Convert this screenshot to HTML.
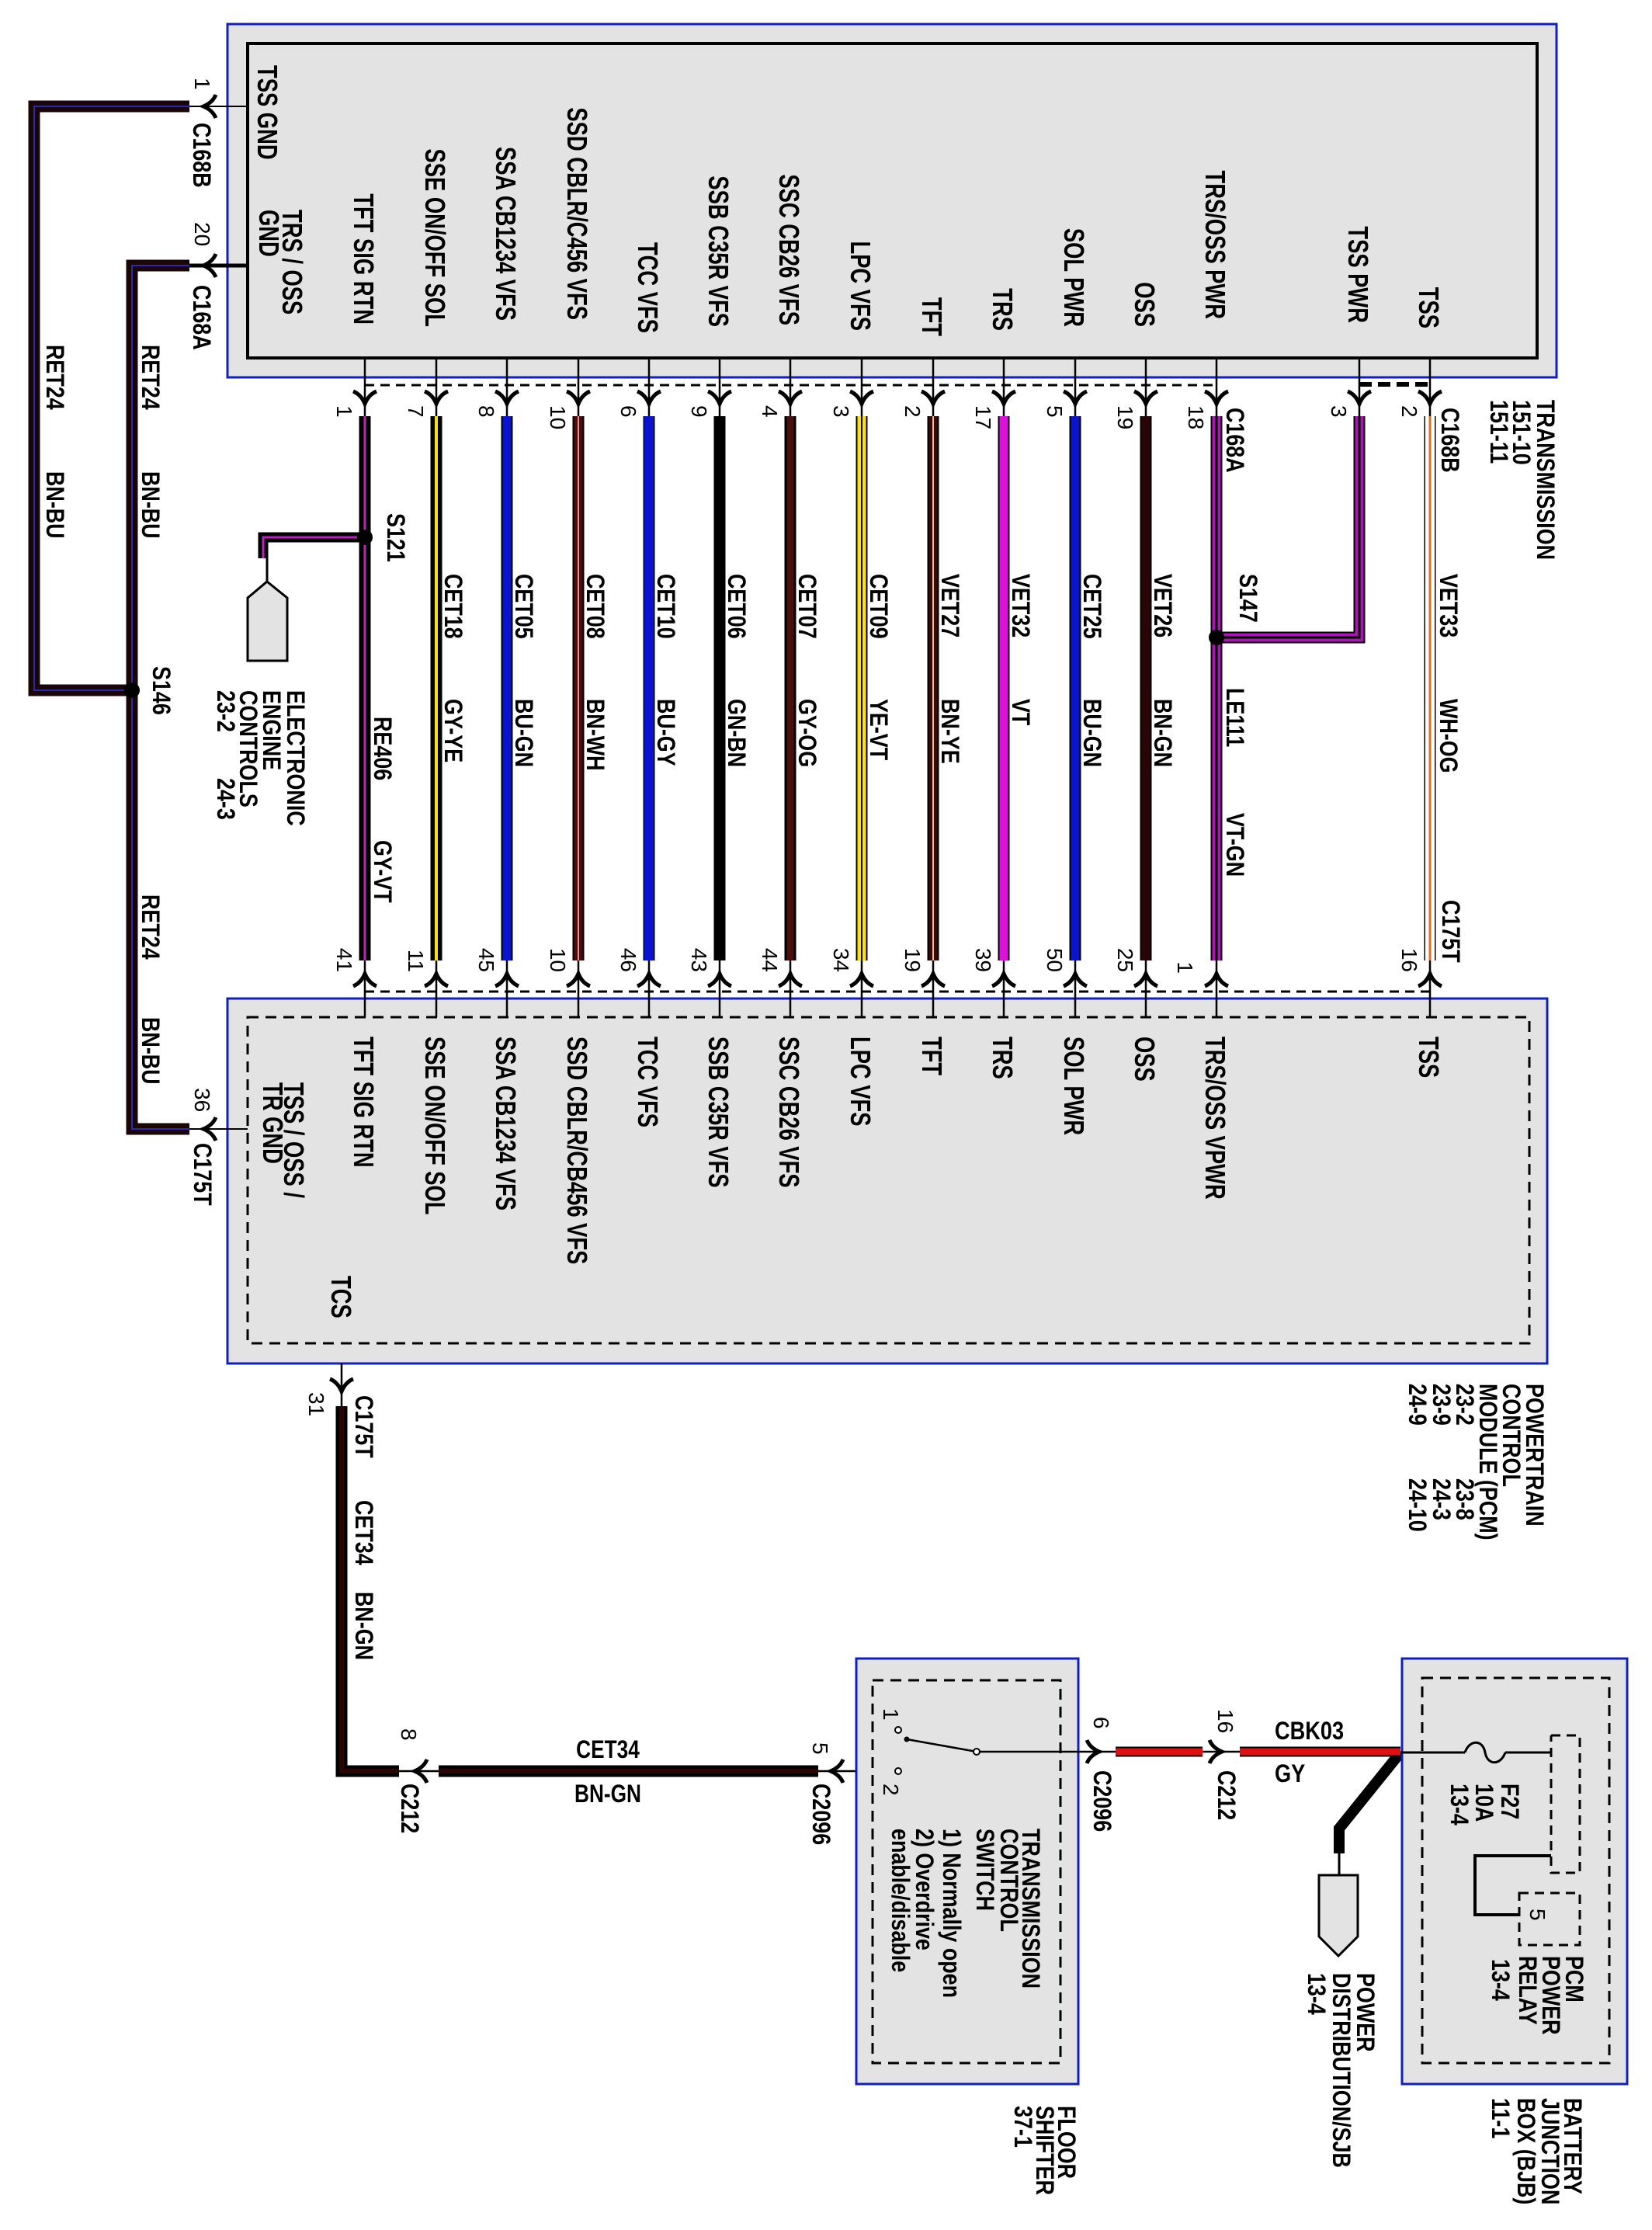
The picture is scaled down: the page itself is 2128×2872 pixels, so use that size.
<!DOCTYPE html>
<html><head><meta charset="utf-8"><style>
html,body{margin:0;padding:0;background:#fff}
svg{display:block}
text{font-family:"Liberation Sans",Arial,sans-serif;fill:#000}
.m{font-size:36px;font-weight:bold}
.w{font-size:32px;font-weight:bold}
.p{font-size:28px}
.s{font-size:32px;font-weight:bold}
.h{font-size:32px;font-weight:bold}
</style></head><body>
<svg width="2128" height="2872" viewBox="0 0 2128 2872" xmlns="http://www.w3.org/2000/svg">
<defs>
<path id="ad" d="M-15,-14 Q-5,-10 0,2 Q5,-10 15,-14" fill="none" stroke="#000" stroke-width="5"/>
<path id="au" d="M-15,14 Q-5,10 0,-2 Q5,10 15,14" fill="none" stroke="#000" stroke-width="5"/>
<path id="al" d="M14,-15 Q10,-5 -2,0 Q10,5 14,15" fill="none" stroke="#000" stroke-width="5"/>
<path id="ar" d="M-14,-15 Q-10,-5 2,0 Q-10,5 -14,15" fill="none" stroke="#000" stroke-width="5"/>
</defs>

<rect x="293" y="31" width="1712" height="455" fill="#e3e3e3" stroke="#1020c0" stroke-width="3"/>
<rect x="319" y="56" width="1661" height="405" fill="#e3e3e3" stroke="#000" stroke-width="4"/>

<rect x="293" y="1286" width="1700" height="470" fill="#e3e3e3" stroke="#1020c0" stroke-width="3"/>
<rect x="319" y="1310" width="1651" height="420" fill="none" stroke="#000" stroke-width="3" stroke-dasharray="14,9"/>

<line x1="470" y1="496" x2="1567" y2="496" stroke="#000" stroke-width="3" stroke-dasharray="12,8"/>
<line x1="1751" y1="495" x2="1842" y2="495" stroke="#000" stroke-width="6" stroke-dasharray="16,8"/>
<line x1="470" y1="1277" x2="1842" y2="1277" stroke="#000" stroke-width="3" stroke-dasharray="12,8"/>

<polyline points="244,137 44,137 44,889 170,889" fill="none" stroke="#1a0606" stroke-width="15"/>
<polyline points="244,137 44,137 44,889 170,889" fill="none" stroke="#2a2ab0" stroke-width="2"/>
<polyline points="244,342 170,342 170,1454 244,1454" fill="none" stroke="#1a0606" stroke-width="15"/>
<polyline points="244,342 170,342 170,1454 244,1454" fill="none" stroke="#2a2ab0" stroke-width="2"/>
<circle cx="170" cy="889" r="10" fill="#000"/>
<line x1="244" y1="137" x2="319" y2="137" stroke="#000" stroke-width="2"/>
<line x1="244" y1="342" x2="319" y2="342" stroke="#000" stroke-width="5"/>
<line x1="244" y1="1454" x2="319" y2="1454" stroke="#000" stroke-width="2"/>
<use href="#al" x="264" y="137"/><use href="#al" x="264" y="342"/><use href="#al" x="264" y="1454"/>

<g stroke="#000" stroke-width="2.5">
<line x1="470" y1="461" x2="470" y2="536"/><line x1="562" y1="461" x2="562" y2="536"/><line x1="653" y1="461" x2="653" y2="536"/><line x1="745" y1="461" x2="745" y2="536"/><line x1="836" y1="461" x2="836" y2="536"/><line x1="927" y1="461" x2="927" y2="536"/><line x1="1018" y1="461" x2="1018" y2="536"/><line x1="1110" y1="461" x2="1110" y2="536"/><line x1="1202" y1="461" x2="1202" y2="536"/><line x1="1293" y1="461" x2="1293" y2="536"/><line x1="1385" y1="461" x2="1385" y2="536"/><line x1="1476" y1="461" x2="1476" y2="536"/><line x1="1567" y1="461" x2="1567" y2="536"/><line x1="1751" y1="461" x2="1751" y2="536"/><line x1="1842" y1="461" x2="1842" y2="536"/>
<line x1="470" y1="1237" x2="470" y2="1310"/><line x1="562" y1="1237" x2="562" y2="1310"/><line x1="653" y1="1237" x2="653" y2="1310"/><line x1="745" y1="1237" x2="745" y2="1310"/><line x1="836" y1="1237" x2="836" y2="1310"/><line x1="927" y1="1237" x2="927" y2="1310"/><line x1="1018" y1="1237" x2="1018" y2="1310"/><line x1="1110" y1="1237" x2="1110" y2="1310"/><line x1="1202" y1="1237" x2="1202" y2="1310"/><line x1="1293" y1="1237" x2="1293" y2="1310"/><line x1="1385" y1="1237" x2="1385" y2="1310"/><line x1="1476" y1="1237" x2="1476" y2="1310"/><line x1="1567" y1="1237" x2="1567" y2="1310"/><line x1="1842" y1="1237" x2="1842" y2="1310"/>
</g>
<g>
<use href="#ad" x="470" y="518"/><use href="#ad" x="562" y="518"/><use href="#ad" x="653" y="518"/><use href="#ad" x="745" y="518"/><use href="#ad" x="836" y="518"/><use href="#ad" x="927" y="518"/><use href="#ad" x="1018" y="518"/><use href="#ad" x="1110" y="518"/><use href="#ad" x="1202" y="518"/><use href="#ad" x="1293" y="518"/><use href="#ad" x="1385" y="518"/><use href="#ad" x="1476" y="518"/><use href="#ad" x="1567" y="518"/><use href="#ad" x="1751" y="518"/><use href="#ad" x="1842" y="518"/>
<use href="#au" x="470" y="1256"/><use href="#au" x="562" y="1256"/><use href="#au" x="653" y="1256"/><use href="#au" x="745" y="1256"/><use href="#au" x="836" y="1256"/><use href="#au" x="927" y="1256"/><use href="#au" x="1018" y="1256"/><use href="#au" x="1110" y="1256"/><use href="#au" x="1202" y="1256"/><use href="#au" x="1293" y="1256"/><use href="#au" x="1385" y="1256"/><use href="#au" x="1476" y="1256"/><use href="#au" x="1567" y="1256"/><use href="#au" x="1842" y="1256"/>
</g>

<g fill="none">
<line x1="470" y1="536" x2="470" y2="1237" stroke="#000" stroke-width="15"/><line x1="470" y1="536" x2="470" y2="1237" stroke="#c020c0" stroke-width="3"/>
<line x1="562" y1="536" x2="562" y2="1237" stroke="#000" stroke-width="15"/><line x1="562" y1="536" x2="562" y2="1237" stroke="#f0e020" stroke-width="4"/>
<line x1="653" y1="536" x2="653" y2="1237" stroke="#000" stroke-width="15"/><line x1="653" y1="536" x2="653" y2="1237" stroke="#0a14c8" stroke-width="11"/>
<line x1="745" y1="536" x2="745" y2="1237" stroke="#000" stroke-width="15"/><line x1="745" y1="536" x2="745" y2="1237" stroke="#4a0c0c" stroke-width="11"/><line x1="745" y1="536" x2="745" y2="1237" stroke="#e89090" stroke-width="2"/>
<line x1="836" y1="536" x2="836" y2="1237" stroke="#000" stroke-width="15"/><line x1="836" y1="536" x2="836" y2="1237" stroke="#0a14d0" stroke-width="12"/>
<line x1="927" y1="536" x2="927" y2="1237" stroke="#000" stroke-width="15"/>
<line x1="1018" y1="536" x2="1018" y2="1237" stroke="#000" stroke-width="15"/><line x1="1018" y1="536" x2="1018" y2="1237" stroke="#4a1010" stroke-width="9"/>
<line x1="1110" y1="536" x2="1110" y2="1237" stroke="#000" stroke-width="15"/><line x1="1110" y1="536" x2="1110" y2="1237" stroke="#ffe010" stroke-width="11"/><line x1="1110" y1="536" x2="1110" y2="1237" stroke="#000" stroke-width="2"/>
<line x1="1202" y1="536" x2="1202" y2="1237" stroke="#000" stroke-width="15"/><line x1="1202" y1="536" x2="1202" y2="1237" stroke="#3a0808" stroke-width="11"/><line x1="1202" y1="536" x2="1202" y2="1237" stroke="#f0c080" stroke-width="2"/>
<line x1="1293" y1="536" x2="1293" y2="1237" stroke="#000" stroke-width="15"/><line x1="1293" y1="536" x2="1293" y2="1237" stroke="#d814d8" stroke-width="11"/>
<line x1="1385" y1="536" x2="1385" y2="1237" stroke="#000" stroke-width="15"/><line x1="1385" y1="536" x2="1385" y2="1237" stroke="#0a14c8" stroke-width="11"/>
<line x1="1476" y1="536" x2="1476" y2="1237" stroke="#000" stroke-width="15"/><line x1="1476" y1="536" x2="1476" y2="1237" stroke="#2a0505" stroke-width="11"/>
<line x1="1567" y1="536" x2="1567" y2="1237" stroke="#000" stroke-width="15"/><line x1="1567" y1="536" x2="1567" y2="1237" stroke="#a818b0" stroke-width="11"/><line x1="1567" y1="536" x2="1567" y2="1237" stroke="#000" stroke-width="3"/>
<polyline points="1751,536 1751,821 1567,821" stroke="#000" stroke-width="15"/><polyline points="1751,536 1751,821 1567,821" stroke="#a818b0" stroke-width="11"/><polyline points="1751,536 1751,821 1567,821" stroke="#000" stroke-width="3"/>
<line x1="1842" y1="536" x2="1842" y2="1237" stroke="#000" stroke-width="15"/><line x1="1842" y1="536" x2="1842" y2="1237" stroke="#fff" stroke-width="12"/><line x1="1842" y1="536" x2="1842" y2="1237" stroke="#e07020" stroke-width="3"/>
<polyline points="470,692 339,692 339,719" stroke="#000" stroke-width="13"/><polyline points="470,692 339,692 339,719" stroke="#c020c0" stroke-width="3"/>
<line x1="344" y1="719" x2="344" y2="749" stroke="#000" stroke-width="3"/>
</g>
<circle cx="470" cy="692" r="10" fill="#000"/>
<circle cx="1567" cy="821" r="10" fill="#000"/>
<polygon points="344,749 370,770 370,851 319,851 319,770" fill="#e3e3e3" stroke="#000" stroke-width="3"/>

<line x1="440" y1="1756" x2="440" y2="1811" stroke="#000" stroke-width="2.5"/>
<use href="#ad" x="440" y="1790"/>
<polyline points="440,1811 440,2281 514,2281" fill="none" stroke="#000" stroke-width="15"/>
<polyline points="440,1811 440,2281 514,2281" fill="none" stroke="#2a0303" stroke-width="6"/>
<line x1="514" y1="2281" x2="565" y2="2281" stroke="#000" stroke-width="2.5"/>
<use href="#al" x="536" y="2281"/>
<line x1="565" y1="2281" x2="1054" y2="2281" stroke="#000" stroke-width="15"/>
<line x1="565" y1="2281" x2="1054" y2="2281" stroke="#2a0303" stroke-width="6"/>
<line x1="1054" y1="2281" x2="1153" y2="2281" stroke="#000" stroke-width="2.5"/>
<use href="#al" x="1072" y="2281"/>

<rect x="1103" y="2136" width="286" height="548" fill="#e3e3e3" stroke="#1020c0" stroke-width="3"/>
<rect x="1124" y="2164" width="242" height="493" fill="none" stroke="#000" stroke-width="3" stroke-dasharray="14,9"/>
<circle cx="1157" cy="2228" r="4" fill="#fff" stroke="#000" stroke-width="2"/>
<circle cx="1157" cy="2281" r="4" fill="#fff" stroke="#000" stroke-width="2"/>
<circle cx="1168" cy="2240" r="3.5" fill="#000"/>
<line x1="1168" y1="2240" x2="1258" y2="2256" stroke="#000" stroke-width="2.5"/>
<circle cx="1258" cy="2256" r="4" fill="#fff" stroke="#000" stroke-width="2"/>
<line x1="1262" y1="2256" x2="1437" y2="2256" stroke="#000" stroke-width="2.5"/>
<use href="#ar" x="1414" y="2256"/>
<line x1="1437" y1="2256" x2="1549" y2="2256" stroke="#000" stroke-width="13"/>
<line x1="1437" y1="2256" x2="1549" y2="2256" stroke="#e01010" stroke-width="9"/>
<line x1="1549" y1="2256" x2="1597" y2="2256" stroke="#000" stroke-width="2.5"/>
<use href="#ar" x="1572" y="2256"/>
<polyline points="1804,2257 1725,2355 1725,2387" fill="none" stroke="#000" stroke-width="14"/>
<line x1="1597" y1="2256" x2="1804" y2="2256" stroke="#000" stroke-width="13"/>
<line x1="1597" y1="2256" x2="1804" y2="2256" stroke="#e01010" stroke-width="9"/>
<line x1="1725" y1="2387" x2="1725" y2="2415" stroke="#000" stroke-width="3"/>
<polygon points="1699,2415 1749,2415 1749,2494 1724,2519 1699,2494" fill="#e3e3e3" stroke="#000" stroke-width="3"/>

<rect x="1806" y="2136" width="290" height="548" fill="#e3e3e3" stroke="#1020c0" stroke-width="3"/>
<rect x="1832" y="2161" width="241" height="496" fill="none" stroke="#000" stroke-width="3" stroke-dasharray="14,9"/>
<line x1="1804" y1="2257" x2="1887" y2="2257" stroke="#000" stroke-width="3"/>
<path d="M1887,2257 C1893,2240 1910,2240 1913,2257 C1916,2274 1933,2274 1939,2257" fill="none" stroke="#000" stroke-width="3"/>
<line x1="1939" y1="2257" x2="1998" y2="2257" stroke="#000" stroke-width="3"/>
<polyline points="1998,2235 2035,2235 2035,2412 1998,2412 1998,2235" fill="none" stroke="#000" stroke-width="3" stroke-dasharray="12,8"/>
<polyline points="1998,2390 1900,2390 1900,2466 1957,2466" fill="none" stroke="#000" stroke-width="4"/>
<rect x="1957" y="2438" width="78" height="67" fill="none" stroke="#000" stroke-width="3" stroke-dasharray="12,8"/>

<g class="m" text-anchor="end">
<text transform="translate(456,418) rotate(90) scale(.76 1)">TFT SIG RTN</text>
<text transform="translate(548,421) rotate(90) scale(.76 1)">SSE ON/OFF SOL</text>
<text transform="translate(639,413) rotate(90) scale(.76 1)">SSA CB1234 VFS</text>
<text transform="translate(731,412) rotate(90) scale(.76 1)">SSD CBLR/C456 VFS</text>
<text transform="translate(822,429) rotate(90) scale(.76 1)">TCC VFS</text>
<text transform="translate(913,421) rotate(90) scale(.76 1)">SSB C35R VFS</text>
<text transform="translate(1004,419) rotate(90) scale(.76 1)">SSC CB26 VFS</text>
<text transform="translate(1096,426) rotate(90) scale(.76 1)">LPC VFS</text>
<text transform="translate(1188,433) rotate(90) scale(.76 1)">TFT</text>
<text transform="translate(1279,426) rotate(90) scale(.76 1)">TRS</text>
<text transform="translate(1371,421) rotate(90) scale(.76 1)">SOL PWR</text>
<text transform="translate(1462,421) rotate(90) scale(.76 1)">OSS</text>
<text transform="translate(1553,411) rotate(90) scale(.76 1)">TRS/OSS PWR</text>
<text transform="translate(1737,416) rotate(90) scale(.76 1)">TSS PWR</text>
<text transform="translate(1828,423) rotate(90) scale(.76 1)">TSS</text>
</g>
<g class="m">
<text transform="translate(332,84) rotate(90) scale(.76 1)">TSS GND</text>
<text transform="translate(364,270) rotate(90) scale(.76 1)">TRS / OSS</text>
<text transform="translate(334,270) rotate(90) scale(.76 1)">GND</text>
</g>
<g class="m">
<text transform="translate(456,1335) rotate(90) scale(.76 1)">TFT SIG RTN</text>
<text transform="translate(548,1335) rotate(90) scale(.76 1)">SSE ON/OFF SOL</text>
<text transform="translate(639,1335) rotate(90) scale(.76 1)">SSA CB1234 VFS</text>
<text transform="translate(731,1335) rotate(90) scale(.76 1)">SSD CBLR/CB456 VFS</text>
<text transform="translate(822,1335) rotate(90) scale(.76 1)">TCC VFS</text>
<text transform="translate(913,1335) rotate(90) scale(.76 1)">SSB C35R VFS</text>
<text transform="translate(1004,1335) rotate(90) scale(.76 1)">SSC CB26 VFS</text>
<text transform="translate(1096,1335) rotate(90) scale(.76 1)">LPC VFS</text>
<text transform="translate(1188,1335) rotate(90) scale(.76 1)">TFT</text>
<text transform="translate(1279,1335) rotate(90) scale(.76 1)">TRS</text>
<text transform="translate(1371,1335) rotate(90) scale(.76 1)">SOL PWR</text>
<text transform="translate(1462,1335) rotate(90) scale(.76 1)">OSS</text>
<text transform="translate(1553,1335) rotate(90) scale(.76 1)">TRS/OSS VPWR</text>
<text transform="translate(1828,1335) rotate(90) scale(.76 1)">TSS</text>
<text transform="translate(366,1394) rotate(90) scale(.76 1)">TSS / OSS /</text>
<text transform="translate(339,1394) rotate(90) scale(.76 1)">TR GND</text>
<text transform="translate(427,1643) rotate(90) scale(.76 1)">TCS</text>
</g>

<g class="p">
<text transform="translate(434,522) rotate(90)">1</text>
<text transform="translate(526,522) rotate(90)">7</text>
<text transform="translate(617,522) rotate(90)">8</text>
<text transform="translate(709,522) rotate(90)">10</text>
<text transform="translate(800,522) rotate(90)">6</text>
<text transform="translate(891,522) rotate(90)">9</text>
<text transform="translate(982,522) rotate(90)">4</text>
<text transform="translate(1074,522) rotate(90)">3</text>
<text transform="translate(1166,522) rotate(90)">2</text>
<text transform="translate(1257,522) rotate(90)">17</text>
<text transform="translate(1349,522) rotate(90)">5</text>
<text transform="translate(1440,522) rotate(90)">19</text>
<text transform="translate(1531,522) rotate(90)">18</text>
<text transform="translate(1715,522) rotate(90)">3</text>
<text transform="translate(1806,522) rotate(90)">2</text>
</g>
<g class="p" text-anchor="end">
<text transform="translate(434,1252) rotate(90)">41</text>
<text transform="translate(526,1252) rotate(90)">11</text>
<text transform="translate(617,1252) rotate(90)">45</text>
<text transform="translate(709,1252) rotate(90)">10</text>
<text transform="translate(800,1252) rotate(90)">46</text>
<text transform="translate(891,1252) rotate(90)">43</text>
<text transform="translate(982,1252) rotate(90)">44</text>
<text transform="translate(1074,1252) rotate(90)">34</text>
<text transform="translate(1166,1252) rotate(90)">19</text>
<text transform="translate(1257,1252) rotate(90)">39</text>
<text transform="translate(1349,1252) rotate(90)">50</text>
<text transform="translate(1440,1252) rotate(90)">25</text>
<text transform="translate(1517,1254) rotate(90)">1</text>
<text transform="translate(1806,1252) rotate(90)">16</text>
</g>

<g class="w">
<text transform="translate(499,661) rotate(90) scale(.84 1)">S121</text>
<text transform="translate(482,923) rotate(90) scale(.84 1)">RE406</text>
<text transform="translate(482,1082) rotate(90) scale(.84 1)">GY-VT</text>
<text transform="translate(573,739) rotate(90) scale(.84 1)">CET18</text><text transform="translate(573,900) rotate(90) scale(.84 1)">GY-YE</text>
<text transform="translate(664,739) rotate(90) scale(.84 1)">CET05</text><text transform="translate(664,900) rotate(90) scale(.84 1)">BU-GN</text>
<text transform="translate(756,739) rotate(90) scale(.84 1)">CET08</text><text transform="translate(756,900) rotate(90) scale(.84 1)">BN-WH</text>
<text transform="translate(847,739) rotate(90) scale(.84 1)">CET10</text><text transform="translate(847,900) rotate(90) scale(.84 1)">BU-GY</text>
<text transform="translate(938,739) rotate(90) scale(.84 1)">CET06</text><text transform="translate(938,900) rotate(90) scale(.84 1)">GN-BN</text>
<text transform="translate(1029,739) rotate(90) scale(.84 1)">CET07</text><text transform="translate(1029,900) rotate(90) scale(.84 1)">GY-OG</text>
<text transform="translate(1121,739) rotate(90) scale(.84 1)">CET09</text><text transform="translate(1121,900) rotate(90) scale(.84 1)">YE-VT</text>
<text transform="translate(1213,739) rotate(90) scale(.84 1)">VET27</text><text transform="translate(1213,900) rotate(90) scale(.84 1)">BN-YE</text>
<text transform="translate(1304,739) rotate(90) scale(.84 1)">VET32</text><text transform="translate(1304,900) rotate(90) scale(.84 1)">VT</text>
<text transform="translate(1396,739) rotate(90) scale(.84 1)">CET25</text><text transform="translate(1396,900) rotate(90) scale(.84 1)">BU-GN</text>
<text transform="translate(1487,739) rotate(90) scale(.84 1)">VET26</text><text transform="translate(1487,900) rotate(90) scale(.84 1)">BN-GN</text>
<text transform="translate(1597,739) rotate(90) scale(.84 1)">S147</text>
<text transform="translate(1580,886) rotate(90) scale(.84 1)">LE111</text>
<text transform="translate(1580,1047) rotate(90) scale(.84 1)">VT-GN</text>
<text transform="translate(1580,525) rotate(90) scale(.84 1)">C168A</text>
<text transform="translate(1857,525) rotate(90) scale(.84 1)">C168B</text>
<text transform="translate(1855,739) rotate(90) scale(.84 1)">VET33</text>
<text transform="translate(1855,900) rotate(90) scale(.84 1)">WH-OG</text>
<text transform="translate(1858,1159) rotate(90) scale(.84 1)">C175T</text>
<text transform="translate(249,158) rotate(90) scale(.84 1)">C168B</text>
<text transform="translate(249,367) rotate(90) scale(.84 1)">C168A</text>
<text transform="translate(250,1472) rotate(90) scale(.84 1)">C175T</text>
<text transform="translate(60,444) rotate(90) scale(.84 1)">RET24</text>
<text transform="translate(60,607) rotate(90) scale(.84 1)">BN-BU</text>
<text transform="translate(183,444) rotate(90) scale(.84 1)">RET24</text>
<text transform="translate(183,607) rotate(90) scale(.84 1)">BN-BU</text>
<text transform="translate(183,1152) rotate(90) scale(.84 1)">RET24</text>
<text transform="translate(183,1310) rotate(90) scale(.84 1)">BN-BU</text>
<text transform="translate(197,858) rotate(90) scale(.84 1)">S146</text>
<text transform="translate(370,889) rotate(90) scale(.84 1)">ELECTRONIC</text>
<text transform="translate(339,889) rotate(90) scale(.84 1)">ENGINE</text>
<text transform="translate(309,889) rotate(90) scale(.84 1)">CONTROLS</text>
<text transform="translate(280,889) rotate(90) scale(.84 1)">23-2</text>
<text transform="translate(280,1002) rotate(90) scale(.84 1)">24-3</text>
<text transform="translate(1980,515) rotate(90) scale(.84 1)">TRANSMISSION</text>
<text transform="translate(1949,515) rotate(90) scale(.84 1)">151-10</text>
<text transform="translate(1920,515) rotate(90) scale(.84 1)">151-11</text>
<text transform="translate(458,1797) rotate(90) scale(.84 1)">C175T</text>
<text transform="translate(458,1932) rotate(90) scale(.84 1)">CET34</text>
<text transform="translate(458,2050) rotate(90) scale(.84 1)">BN-GN</text>
<text transform="translate(517,2297) rotate(90) scale(.84 1)">C212</text>
<text transform="translate(1047,2297) rotate(90) scale(.84 1)">C2096</text>
<text transform="translate(1409,2280) rotate(90) scale(.84 1)">C2096</text>
<text transform="translate(1569,2280) rotate(90) scale(.84 1)">C212</text>
</g>
<g class="p">
<text transform="translate(251,100) rotate(90)">1</text>
<text transform="translate(251,286) rotate(90)">20</text>
<text transform="translate(251,1401) rotate(90)">36</text>
<text transform="translate(398,1793) rotate(90)">31</text>
<text transform="translate(517,2226) rotate(90)">8</text>
<text transform="translate(1047,2244) rotate(90)">5</text>
<text transform="translate(1409,2211) rotate(90)">6</text>
<text transform="translate(1569,2201) rotate(90)">16</text>
<text transform="translate(1138,2200) rotate(90)">1</text>
<text transform="translate(1138,2297) rotate(90)">2</text>
<text transform="translate(1971,2458) rotate(90)">5</text>
</g>
<g class="h" text-anchor="middle">
<text x="783" y="2264" transform="translate(783 0) scale(.82 1) translate(-783 0)">CET34</text>
<text x="783" y="2321" transform="translate(783 0) scale(.82 1) translate(-783 0)">BN-GN</text>
</g>
<g class="h">
<text x="1642" y="2240" transform="translate(1642 0) scale(.85 1) translate(-1642 0)">CBK03</text>
<text x="1642" y="2295" transform="translate(1642 0) scale(.85 1) translate(-1642 0)">GY</text>
</g>
<g class="s">
<text transform="translate(1317,2355) rotate(90) scale(.84 1)">TRANSMISSION</text>
<text transform="translate(1289,2355) rotate(90) scale(.84 1)">CONTROL</text>
<text transform="translate(1258,2355) rotate(90) scale(.84 1)">SWITCH</text>
<text transform="translate(1215,2355) rotate(90) scale(.84 1)">1) Normally open</text>
<text transform="translate(1180,2355) rotate(90) scale(.84 1)">2) Overdrive</text>
<text transform="translate(1149,2355) rotate(90) scale(.84 1)">enable/disable</text>
<text transform="translate(1363,2712) rotate(90) scale(.84 1)">FLOOR</text>
<text transform="translate(1335,2712) rotate(90) scale(.84 1)">SHIFTER</text>
<text transform="translate(1307,2712) rotate(90) scale(.84 1)">37-1</text>
<text transform="translate(1748,2541) rotate(90) scale(.84 1)">POWER</text>
<text transform="translate(1717,2541) rotate(90) scale(.84 1)">DISTRIBUTION/SJB</text>
<text transform="translate(1685,2541) rotate(90) scale(.84 1)">13-4</text>
<text transform="translate(1934,2297) rotate(90) scale(.84 1)">F27</text>
<text transform="translate(1901,2297) rotate(90) scale(.84 1)">10A</text>
<text transform="translate(1869,2297) rotate(90) scale(.84 1)">13-4</text>
<text transform="translate(2017,2519) rotate(90) scale(.84 1)">PCM</text>
<text transform="translate(1987,2519) rotate(90) scale(.84 1)">POWER</text>
<text transform="translate(1957,2519) rotate(90) scale(.84 1)">RELAY</text>
<text transform="translate(1922,2523) rotate(90) scale(.84 1)">13-4</text>
<text transform="translate(2015,2702) rotate(90) scale(.84 1)">BATTERY</text>
<text transform="translate(1986,2702) rotate(90) scale(.84 1)">JUNCTION</text>
<text transform="translate(1955,2702) rotate(90) scale(.84 1)">BOX (BJB)</text>
<text transform="translate(1922,2702) rotate(90) scale(.84 1)">11-1</text>
<text transform="translate(1966,1782) rotate(90) scale(.84 1)">POWERTRAIN</text>
<text transform="translate(1936,1782) rotate(90) scale(.84 1)">CONTROL</text>
<text transform="translate(1906,1782) rotate(90) scale(.84 1)">MODULE (PCM)</text>
<text transform="translate(1876,1782) rotate(90) scale(.84 1)">23-2</text>
<text transform="translate(1876,1904) rotate(90) scale(.84 1)">23-8</text>
<text transform="translate(1846,1782) rotate(90) scale(.84 1)">23-9</text>
<text transform="translate(1846,1904) rotate(90) scale(.84 1)">24-3</text>
<text transform="translate(1815,1782) rotate(90) scale(.84 1)">24-9</text>
<text transform="translate(1815,1904) rotate(90) scale(.84 1)">24-10</text>
</g>
</svg>
</body></html>
